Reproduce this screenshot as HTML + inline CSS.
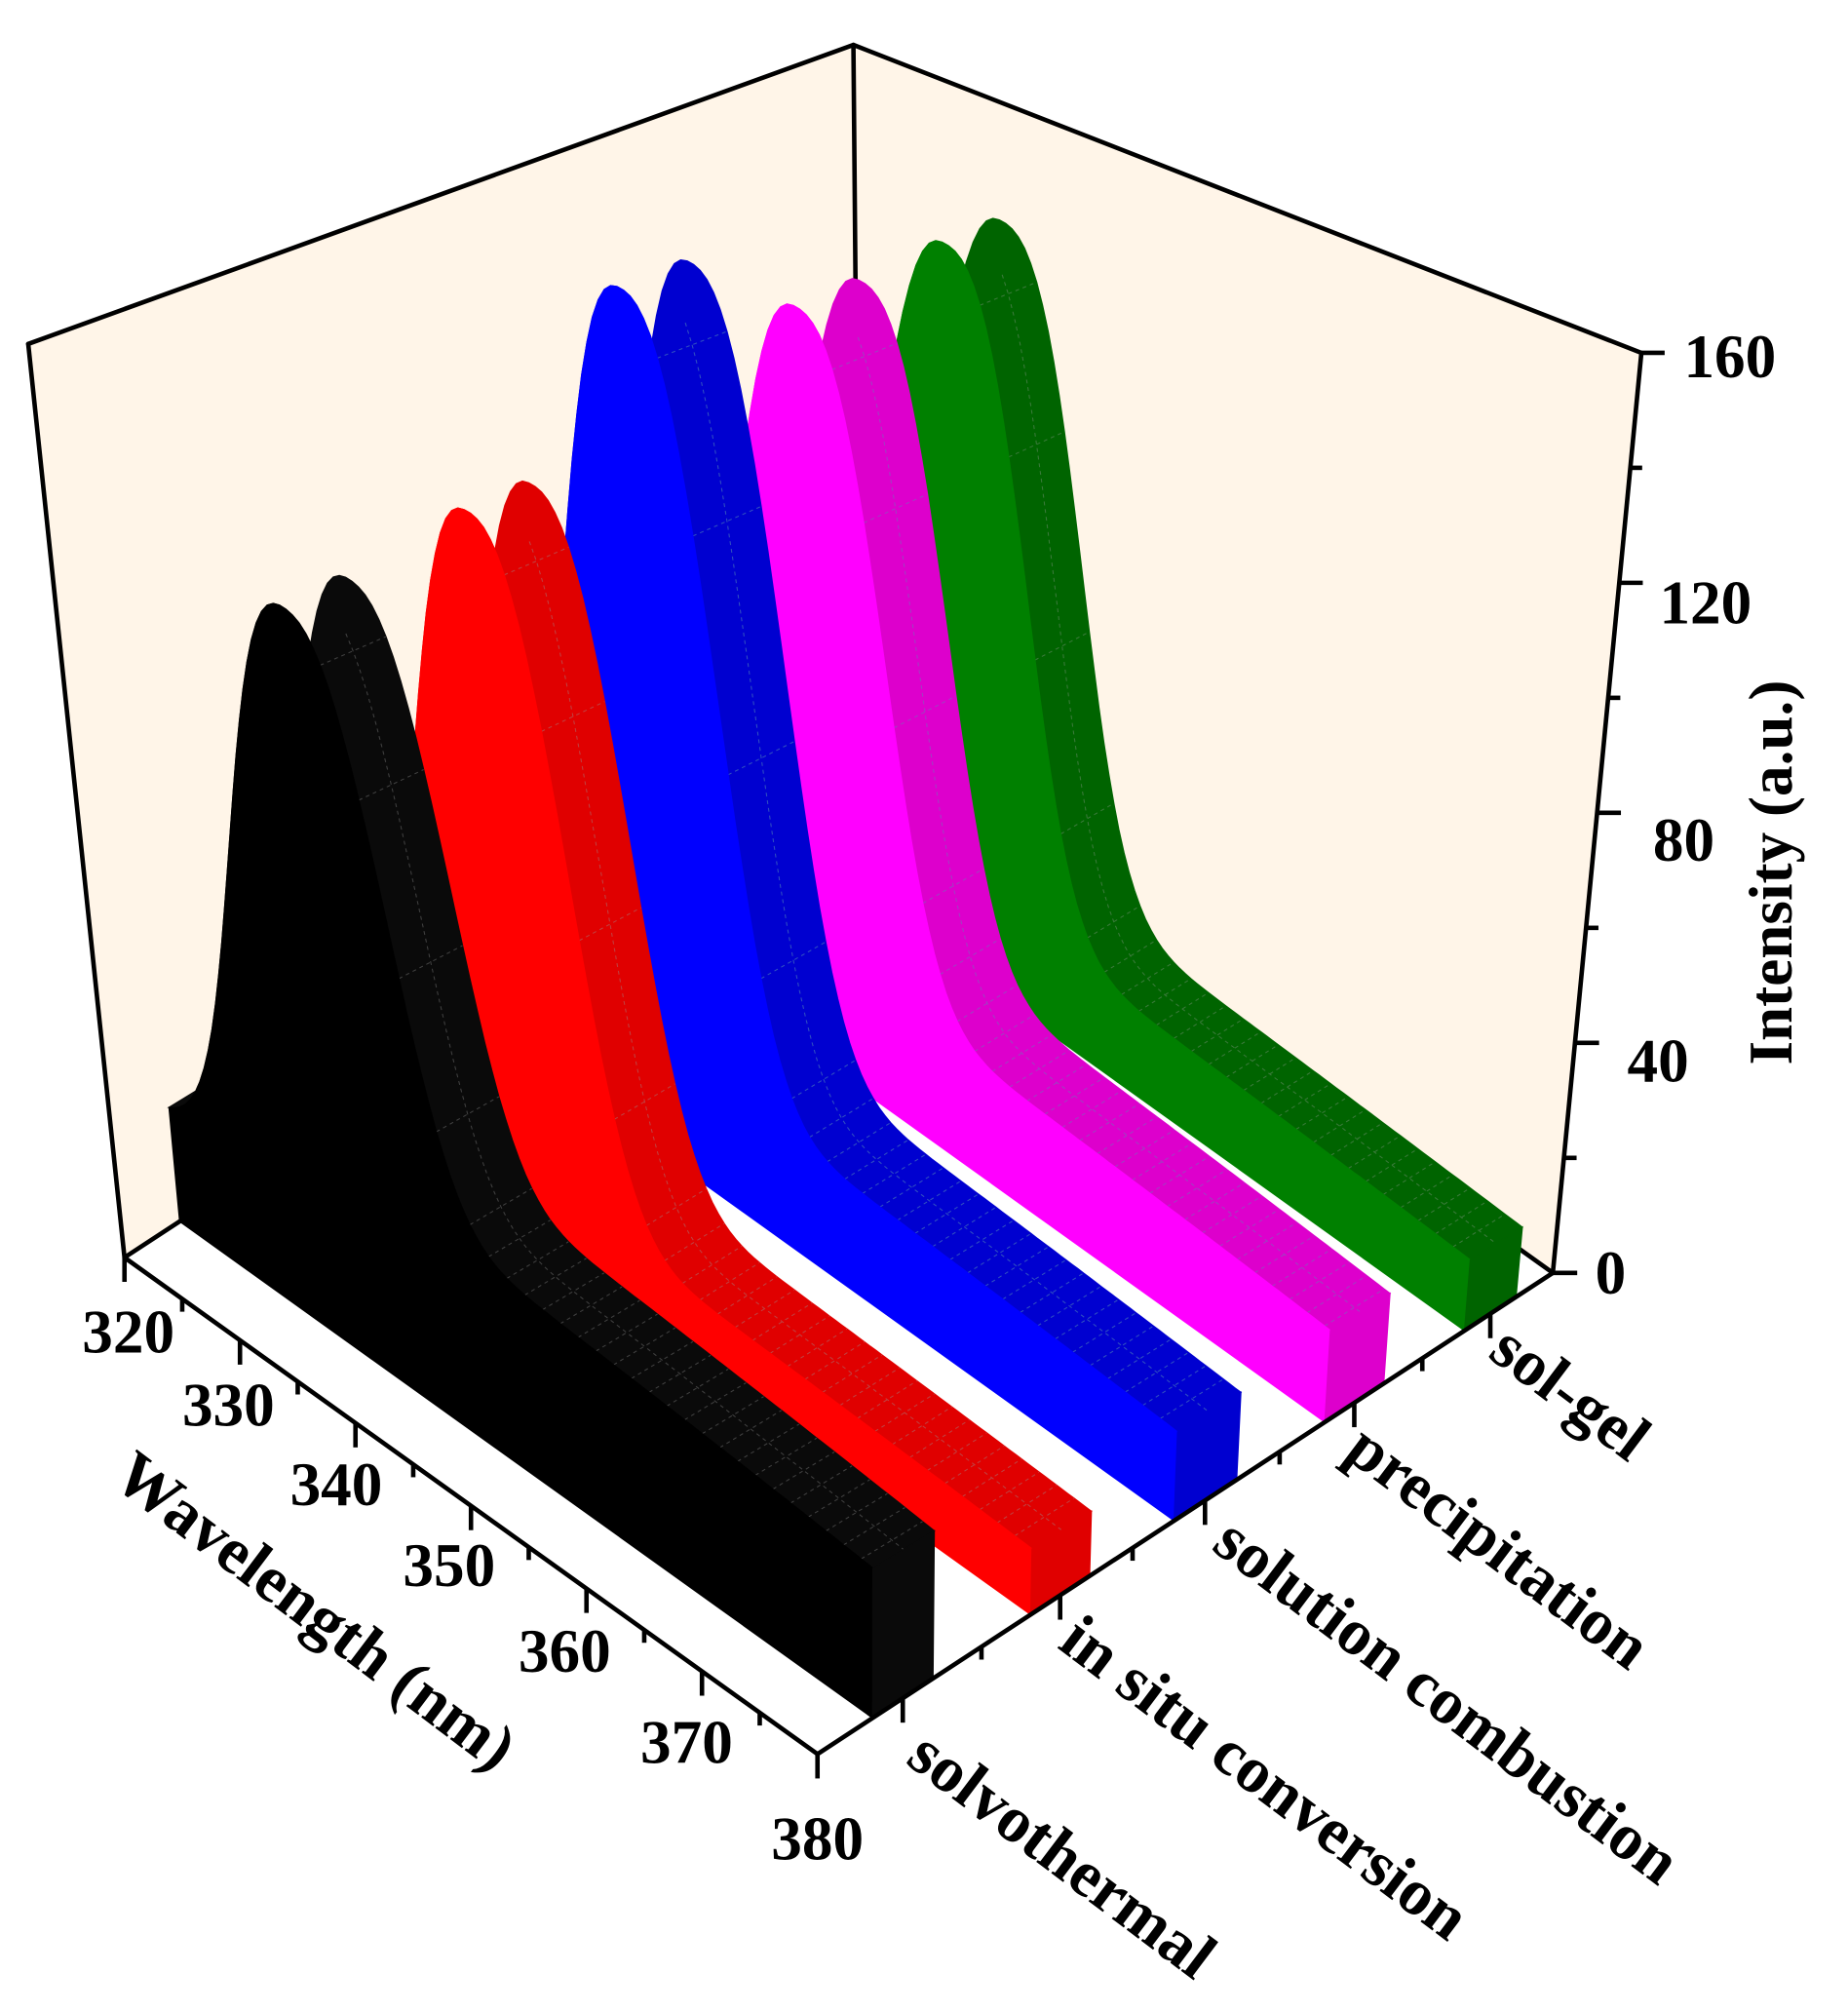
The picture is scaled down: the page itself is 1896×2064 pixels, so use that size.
<!DOCTYPE html>
<html><head><meta charset="utf-8"><style>
html,body{margin:0;padding:0;background:#fff;}
svg{display:block;}
text{font-family:"Liberation Serif",serif;font-weight:bold;fill:#000;}
</style></head><body>
<svg id="s" width="1896" height="2064" viewBox="0 0 1440 1568" preserveAspectRatio="none" xmlns="http://www.w3.org/2000/svg">
<rect x="0" y="0" width="1440" height="1568" fill="#fff"/>
<g id="walls"></g>
<g id="rib"></g>
<g id="axes"></g>
<text x="100" y="1038" font-size="48" text-anchor="middle" dominant-baseline="central">320</text>
<text x="178" y="1095" font-size="48" text-anchor="middle" dominant-baseline="central">330</text>
<text x="262" y="1157" font-size="48" text-anchor="middle" dominant-baseline="central">340</text>
<text x="350" y="1220" font-size="48" text-anchor="middle" dominant-baseline="central">350</text>
<text x="440" y="1287" font-size="48" text-anchor="middle" dominant-baseline="central">360</text>
<text x="535" y="1358" font-size="48" text-anchor="middle" dominant-baseline="central">370</text>
<text x="637" y="1433" font-size="48" text-anchor="middle" dominant-baseline="central">380</text>
<text x="1312" y="278" font-size="48" dominant-baseline="central">160</text>
<text x="1293" y="470" font-size="48" dominant-baseline="central">120</text>
<text x="1288" y="655" font-size="48" dominant-baseline="central">80</text>
<text x="1268" y="827" font-size="48" dominant-baseline="central">40</text>
<text x="1243" y="992" font-size="48" dominant-baseline="central">0</text>
<text transform="translate(1380,680) rotate(-90)" font-size="48" text-anchor="middle" dominant-baseline="central">Intensity (a.u.)</text>
<text transform="translate(246,1255) rotate(37)" font-size="51" text-anchor="middle" dominant-baseline="central">Wavelength (nm)</text>
<text transform="translate(828,1445) rotate(37)" font-size="51" text-anchor="middle" dominant-baseline="central">solvothermal</text>
<text transform="translate(986,1385) rotate(37)" font-size="51" text-anchor="middle" dominant-baseline="central">in situ conversion</text>
<text transform="translate(1128,1325) rotate(37)" font-size="51" text-anchor="middle" dominant-baseline="central">solution combustion</text>
<text transform="translate(1168,1205) rotate(37)" font-size="51" text-anchor="middle" dominant-baseline="central">precipitation</text>
<text transform="translate(1224,1085) rotate(37)" font-size="51" text-anchor="middle" dominant-baseline="central">sol-gel</text>
</svg>
<script>
(function(){
var NS="http://www.w3.org/2000/svg";
function P(w,c,I){
  var X=97+(w-320)/60*540+c*573, Y=980+(w-320)/60*387-c*375;
  var dx=(X-665)*0.125*I/160, dy=-(570+0.38*(Y-605))*I/160;
  return [X+dx,Y+dy];
}
function pt(p){return p[0].toFixed(1)+","+p[1].toFixed(1);}
function el(g,tag,attrs){var e=document.createElementNS(NS,tag);for(var k in attrs)e.setAttribute(k,attrs[k]);document.getElementById(g).appendChild(e);return e;}
el("walls","polygon",{points:"22,268 665,35 670,605 97,980",fill:"#fff5e8"});
el("walls","polygon",{points:"665,35 1279,275 1210,992 670,605",fill:"#fff5e8"});
var L={stroke:"#000","stroke-width":3.5,fill:"none","stroke-linecap":"round","stroke-linejoin":"round"};
el("walls","polyline",Object.assign({points:"22,268 665,35 1279,275"},L));
el("walls","polyline",Object.assign({points:"22,268 97,980 670,605 1210,992"},L));
el("walls","line",Object.assign({x1:665,y1:35,x2:670,y2:605},L));
var R=[
 {c0:0.88,c1:0.95,P:142,w0:334,T:12,S:0,f:"#008000",t:"#006400",g:"#3a7a3a"},
 {c0:0.69,c1:0.77,P:142,w0:334.5,T:15,S:0,f:"#ff00ff",t:"#dd00cc",g:"#a040c0"},
 {c0:0.485,c1:0.57,P:157,w0:334,T:14,S:0,f:"#0000ff",t:"#0000d0",g:"#3050c0"},
 {c0:0.29,c1:0.37,P:128,w0:334,T:10,S:0,f:"#ff0000",t:"#e00000",g:"#c04040"},
 {c0:0.075,c1:0.157,P:123,w0:333,T:22,S:19,f:"#000000",t:"#0a0a0a",g:"#404040"}
];
R.forEach(function(r){
  function tail(w){return r.T*(1+(380-w)/100);}
  function I(w){
    var d;
    if(w<r.w0){d=r.w0-w;return r.S+(r.P-r.S)*Math.exp(-Math.pow(d/7,2.4));}
    d=w-r.w0;
    return tail(w)+(r.P-tail(r.w0))*Math.exp(-Math.pow(d/8.5,2.5));
  }
  var ws=[];for(var w=320;w<=380.001;w+=0.5)ws.push(w);
  var a=[],b=[];
  ws.forEach(function(w){a.push(pt(P(w,r.c0,I(w))));b.push(pt(P(w,r.c1,I(w))));});
  el("rib","polygon",{points:a.concat(b.reverse()).join(" "),fill:r.t,stroke:r.t,"stroke-width":1});
  for(var ww=r.w0+3;ww<380;ww+=(ww<345?2.5:1.5)){
    var p1=P(ww,r.c0,I(ww)),p2=P(ww,r.c1,I(ww));
    el("rib","line",{x1:p1[0],y1:p1[1],x2:p2[0],y2:p2[1],stroke:r.g,"stroke-width":0.8,"stroke-dasharray":"3,3"});
  }
  var mid=[];ws.forEach(function(w){if(w>r.w0+2)mid.push(pt(P(w,(r.c0+r.c1)/2,I(w))));});
  el("rib","polyline",{points:mid.join(" "),fill:"none",stroke:r.g,"stroke-width":0.8,"stroke-dasharray":"3,3"});
  var f=ws.map(function(w){return pt(P(w,r.c0,I(w)));});
  f.push(pt(P(380,r.c0,0)));f.push(pt(P(320,r.c0,0)));
  el("rib","polygon",{points:f.join(" "),fill:r.f,stroke:r.f,"stroke-width":1});
  var e=[P(380,r.c0,0),P(380,r.c1,0),P(380,r.c1,I(380)),P(380,r.c0,I(380))].map(pt);
  el("rib","polygon",{points:e.join(" "),fill:r.t,stroke:r.t,"stroke-width":1});
});
el("axes","polyline",Object.assign({points:"97,980 637,1367 1210,992"},L));
el("axes","line",Object.assign({x1:1279,y1:275,x2:1210,y2:992},L));
for(var w=320;w<=380;w+=5){
  var p=P(w,0,0),len=(w%10==0)?19:10;
  el("axes","line",{x1:p[0],y1:p[1],x2:p[0],y2:p[1]+len,stroke:"#000","stroke-width":3.5});
}
var cs=[0.116,0.33,0.527,0.73,0.915];
cs.forEach(function(c,i){
  var p=P(380,c,0);
  el("axes","line",{x1:p[0],y1:p[1],x2:p[0],y2:p[1]+19,stroke:"#000","stroke-width":3.5});
  if(i<4){var m=(c+cs[i+1])/2;var q=P(380,m,0);
  el("axes","line",{x1:q[0],y1:q[1],x2:q[0],y2:q[1]+10,stroke:"#000","stroke-width":3.5});}
});
for(var z=0;z<=160;z+=20){
  var p=P(380,1,z),len=(z%40==0)?19:10;
  el("axes","line",{x1:p[0],y1:p[1],x2:p[0]+len,y2:p[1],stroke:"#000","stroke-width":3.5});
}
})();
</script>
</body></html>
